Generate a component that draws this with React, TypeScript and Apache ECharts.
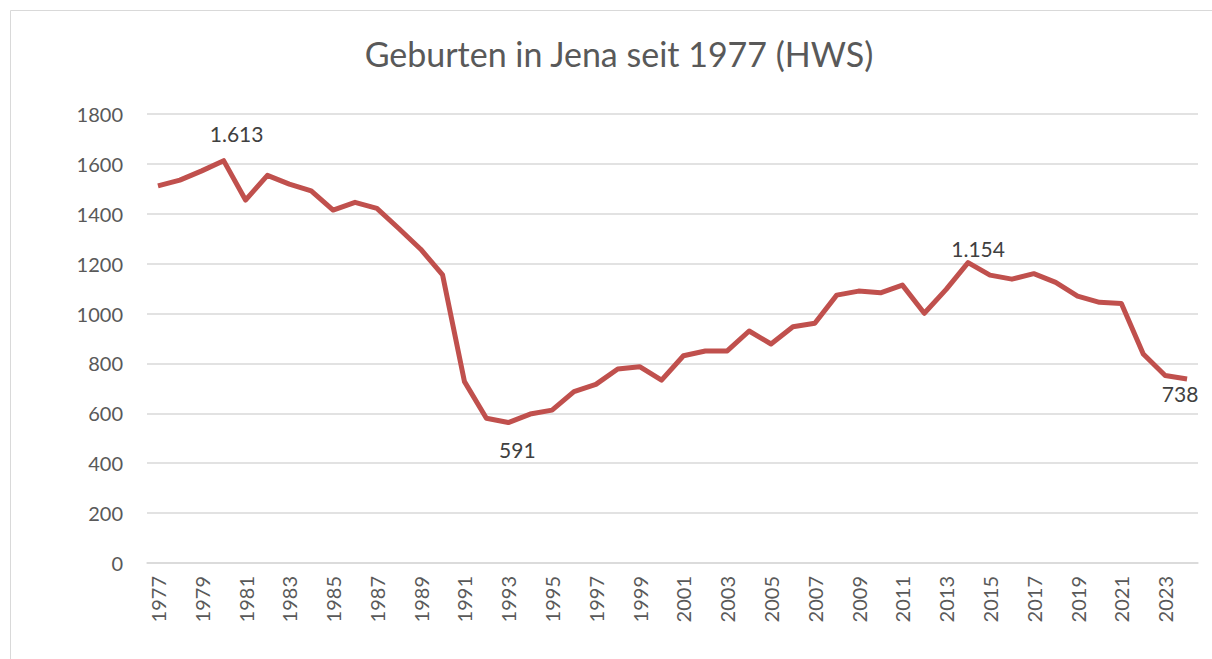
import React, { useEffect, useRef } from "react";
import * as echarts from "echarts";

const years: string[] = [];
for (let y = 1977; y <= 2024; y++) years.push(String(y));

const births = [
  1512, 1535, 1572, 1613, 1455, 1554, 1519, 1492, 1415, 1446, 1422, 1341,
  1258, 1155, 727, 580, 563, 597, 613, 687, 716, 778, 787, 733,
  831, 850, 850, 930, 878, 947, 961, 1074, 1090, 1083, 1114, 1001,
  1097, 1204, 1154, 1138, 1160, 1125, 1070, 1045, 1040, 838, 752, 738,
];

const labelYears = ["1980", "1993", "2014", "2024"];
const labelTexts = ["1.613", "591", "1.154", "738"];
const labelOffsets: [number, number][] = [
  [13, -27],
  [9, 27],
  [10, -14],
  [-7, 15],
];

const yTicks = { min: 0, max: 1800, interval: 200 };

const FONT = "Lato, 'Noto Sans', sans-serif";

export default function App() {
  const ref = useRef<HTMLDivElement>(null);
  useEffect(() => {
    if (!ref.current) return;
    const chart = echarts.init(ref.current, undefined, { renderer: "svg" });
    const data = births.map((v, i) => {
      const idx = labelYears.indexOf(years[i]);
      if (idx < 0) return v;
      return {
        value: v,
        label: {
          show: true,
          formatter: labelTexts[idx],
          position: "inside",
          offset: labelOffsets[idx],
          align: "center",
          verticalAlign: "middle",
          color: "#404040",
          fontSize: 21,
          fontFamily: FONT,
        },
      };
    });
    chart.setOption({
      animation: false,
      backgroundColor: "#ffffff",
      title: {
        text: "Geburten in Jena seit 1977 (HWS)",
        left: 614,
        textAlign: "center",
        top: 31,
        textStyle: {
          color: "#595959",
          fontSize: 34,
          fontWeight: "normal",
          fontFamily: FONT,
        },
      },
      graphic: [
        {
          type: "rect",
          shape: { x: 10.5, y: 10.5, width: 1220, height: 680 },
          style: { fill: "none", stroke: "#d9d9d9", lineWidth: 1 },
          silent: true,
        },
      ],
      grid: { left: 147, right: 14, top: 114, bottom: 96, containLabel: false },
      xAxis: {
        type: "category",
        data: years,
        boundaryGap: true,
        axisLine: { show: true, lineStyle: { color: "#d9d9d9", width: 1.5 } },
        axisTick: { show: false },
        axisLabel: {
          interval: 1,
          rotate: 90,
          margin: 13,
          color: "#595959",
          fontSize: 20,
          fontFamily: FONT,
        },
      },
      yAxis: {
        type: "value",
        min: yTicks.min,
        max: yTicks.max,
        interval: yTicks.interval,
        axisLine: { show: false },
        axisTick: { show: false },
        splitLine: { lineStyle: { color: "#d9d9d9", width: 1.5 } },
        axisLabel: {
          margin: 24,
          color: "#595959",
          fontSize: 20,
          fontFamily: FONT,
          formatter: (v: number) => String(v),
        },
      },
      series: [
        {
          type: "line",
          data,
          symbol: "circle",
          symbolSize: 1,
          showSymbol: true,
          itemStyle: { color: "rgba(0,0,0,0)" },
          lineStyle: { color: "#c0504d", width: 5, join: "round" },
          label: { show: false },
        },
      ],
    });
    return () => chart.dispose();
  }, []);
  return (
    <div
      ref={ref}
      style={{ position: "fixed", left: 0, top: 0, width: 1212, height: 659 }}
    />
  );
}
